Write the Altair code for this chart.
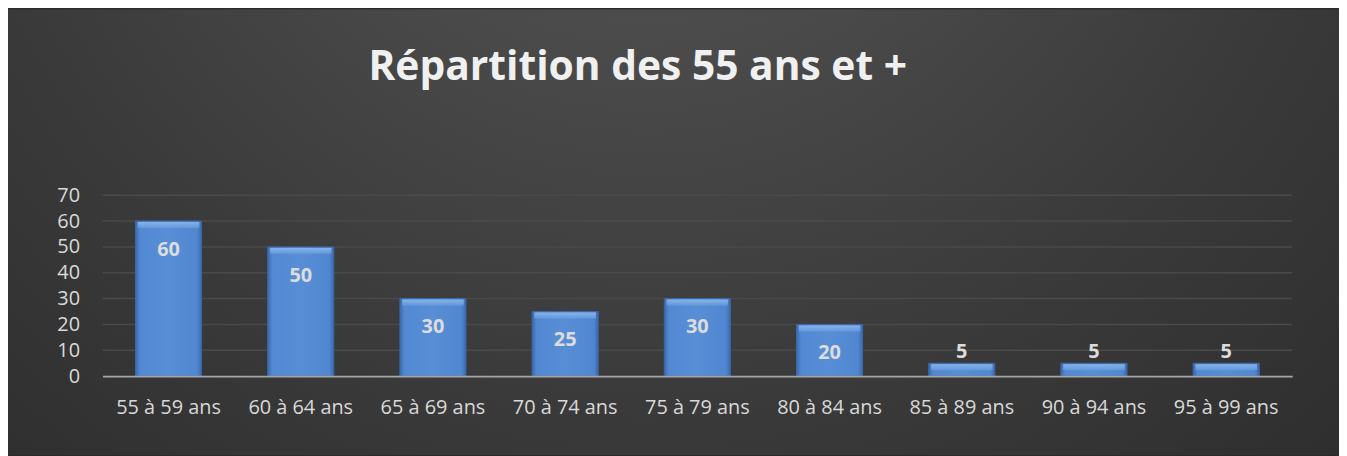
import altair as alt
import pandas as pd

categories = ["55 à 59 ans", "60 à 64 ans", "65 à 69 ans", "70 à 74 ans", "75 à 79 ans",
              "80 à 84 ans", "85 à 89 ans", "90 à 94 ans", "95 à 99 ans"]
values = [60, 50, 30, 25, 30, 20, 5, 5, 5]
grid_ticks = [10, 20, 30, 40, 50, 60, 70]
y_ticks = [0, 10, 20, 30, 40, 50, 60, 70]
title_text = "Répartition des 55 ans et +"

W, H = 1197, 182
PAD_L, PAD_T, PAD_R, PAD_B = 95, 187, 47, 79
FONT = "Open Sans"

df = pd.DataFrame({"cat": categories, "value": values})
grid_df = pd.DataFrame({"v": grid_ticks})
bg_df = pd.DataFrame({"k": [0]})

xs = alt.Scale(domain=categories, paddingInner=0.5, paddingOuter=0.25)
ys = alt.Scale(domain=[0, 70], nice=False)

y_axis = alt.Axis(values=y_ticks, tickCount=len(y_ticks), labelFont=FONT, labelFontSize=20,
                  labelColor="#d9d9d9", labelPadding=23, ticks=False,
                  domain=False, grid=False, zindex=1, labelOverlap=False,
                  labelBound=False, labelFlush=False)

bg = alt.Chart(bg_df).mark_rect(
    color=alt.RadialGradient(
        gradient="radial",
        x1=0.48, y1=0.12, r1=0,
        x2=0.48, y2=0.12, r2=0.85,
        stops=[alt.GradientStop(color="#595959", offset=0),
               alt.GradientStop(color="#3a3a3a", offset=0.6),
               alt.GradientStop(color="#2a2a2a", offset=1)],
    )
).encode(
    x=alt.value(-PAD_L), x2=alt.value(W + PAD_R),
    y=alt.value(-PAD_T), y2=alt.value(H + PAD_B),
)

grid = alt.Chart(grid_df).mark_rule(color="#4a4a4a", strokeWidth=1.5).encode(
    y=alt.Y("v:Q", scale=ys, axis=y_axis, title=None)
)

bars = alt.Chart(df).mark_bar(
    color=alt.LinearGradient(
        gradient="linear", x1=0, y1=0, x2=1, y2=0,
        stops=[alt.GradientStop(color="#3a6aae", offset=0),
               alt.GradientStop(color="#5289d2", offset=0.07),
               alt.GradientStop(color="#578ed6", offset=0.5),
               alt.GradientStop(color="#5087d0", offset=0.93),
               alt.GradientStop(color="#3a6aae", offset=1)],
    ),
    stroke="#3b67a8", strokeWidth=1,
).encode(
    x=alt.X("cat:N", scale=xs, sort=categories, title=None,
            axis=alt.Axis(labelAngle=0, labelFont=FONT, labelFontSize=20,
                          labelColor="#d9d9d9", labelBaseline="alphabetic",
                          labelPadding=38, ticks=False, domainColor="#a6a6a6",
                          domainWidth=2, zindex=1, grid=False)),
    y=alt.Y("value:Q", scale=ys, title=None, axis=y_axis),
)

bevel = alt.Chart(df).mark_tick(
    orient="horizontal", thickness=6, size=62, yOffset=4,
    color=alt.LinearGradient(
        gradient="linear", x1=0, y1=0, x2=0, y2=1,
        stops=[alt.GradientStop(color="#9cc4f2", offset=0),
               alt.GradientStop(color="#6a9ee0", offset=1)],
    ),
).encode(
    x=alt.X("cat:N", scale=xs, sort=categories),
    y=alt.Y("value:Q", scale=ys),
)

inside = alt.Chart(df).transform_filter("datum.value >= 10").mark_text(
    font=FONT, fontSize=20, fontWeight="bold", color="#dcdcdc",
    baseline="alphabetic", dy=35,
).encode(
    x=alt.X("cat:N", scale=xs, sort=categories),
    y=alt.Y("value:Q", scale=ys),
    text="value:Q",
)

above = alt.Chart(df).transform_filter("datum.value < 10").mark_text(
    font=FONT, fontSize=20, fontWeight="bold", color="#dcdcdc",
    baseline="alphabetic", dy=-5,
).encode(
    x=alt.X("cat:N", scale=xs, sort=categories),
    y=alt.Y("value:Q", scale=ys),
    text="value:Q",
)

chart = alt.layer(bg, grid, bars, bevel, inside, above).properties(
    width=W, height=H,
    autosize=alt.AutoSizeParams(type="none"),
    padding={"left": PAD_L, "top": PAD_T, "right": PAD_R, "bottom": PAD_B},
    background="#2b2b2b",
    title=alt.TitleParams(
        text=title_text, font=FONT, fontSize=41, fontWeight="bold",
        color="#f0f0f0", anchor="middle", dx=-60, offset=-112,
        baseline="alphabetic",
    ),
).configure_view(stroke=None).configure_axisY(labelOverlap=False)

chart.save("out.html", embed_options={"renderer": "svg", "actions": False})
